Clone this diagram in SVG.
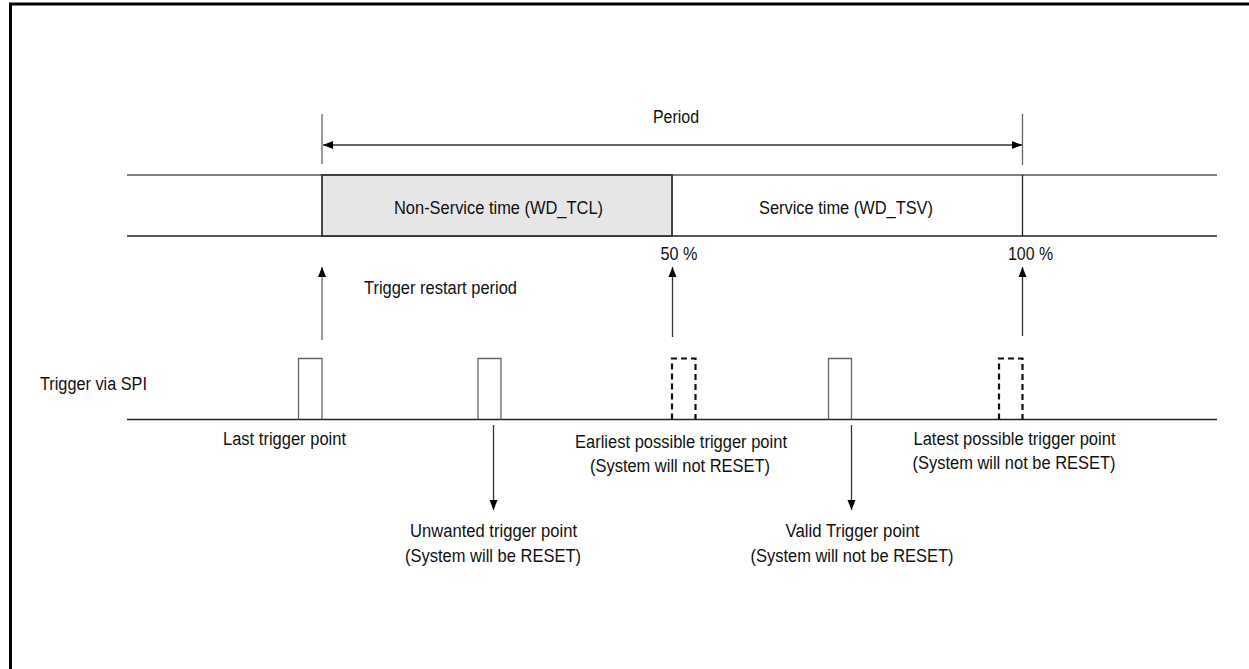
<svg xmlns="http://www.w3.org/2000/svg" width="1249" height="669" viewBox="0 0 1249 669">
<style>
text{font-family:"Liberation Sans",Arial,sans-serif;font-size:18px;fill:#111}
.m{text-anchor:middle}
.ln{stroke:#222;stroke-width:1.3;fill:none}
.gl{stroke:#666;stroke-width:1.3;fill:none}
.pulse{stroke:#666;stroke-width:1.3;fill:none}
.dash{stroke:#111;stroke-width:2.2;fill:none;stroke-dasharray:6 4}
.arr{stroke:#333;stroke-width:1.3;fill:none}
</style>
<defs>
<marker id="ah" viewBox="0 0 10 10" refX="10" refY="5" markerWidth="10" markerHeight="10" markerUnits="userSpaceOnUse" orient="auto-start-reverse">
<path d="M0,1 L10,5 L0,9 Z" fill="#000"/>
</marker>
</defs>
<rect width="1249" height="669" fill="#fff"/>
<path d="M10.5,680 V4 H1260" stroke="#000" stroke-width="3" fill="none"/>

<g id="period">
<line class="gl" x1="322" y1="114" x2="322" y2="164"/>
<line class="gl" x1="1022.5" y1="114" x2="1022.5" y2="165"/>
<text class="m" x="676" y="123" textLength="46" lengthAdjust="spacingAndGlyphs">Period</text>
</g>

<g id="band">
<line x1="127" y1="175" x2="1217" y2="175" stroke="#555" stroke-width="1.3"/>
<line class="ln" x1="127" y1="236" x2="1217" y2="236"/>
<rect x="322" y="175" width="350" height="61" fill="#e6e6e6" stroke="#333" stroke-width="1.8"/>
<line class="ln" x1="1022.5" y1="175" x2="1022.5" y2="236"/>
<text class="m" x="498.5" y="214" textLength="209" lengthAdjust="spacingAndGlyphs">Non-Service time (WD_TCL)</text>
<text class="m" x="846" y="214" textLength="174" lengthAdjust="spacingAndGlyphs">Service time (WD_TSV)</text>
<text class="m" x="679" y="260" textLength="37" lengthAdjust="spacingAndGlyphs">50 %</text>
<text class="m" x="1030.5" y="260" textLength="45" lengthAdjust="spacingAndGlyphs">100 %</text>
</g>

<g id="restart">
<text x="364" y="294" textLength="153" lengthAdjust="spacingAndGlyphs">Trigger restart period</text>
</g>

<g id="spi">
<text x="40" y="390" textLength="107" lengthAdjust="spacingAndGlyphs">Trigger via SPI</text>
<line class="ln" x1="127" y1="419.5" x2="1217" y2="419.5"/>
</g>

<g id="pulse-last">
<path class="pulse" d="M298.5,419.5 V358.5 H322 V419.5"/>
<text x="223" y="445" textLength="123" lengthAdjust="spacingAndGlyphs">Last trigger point</text>
</g>
<g id="pulse-unwanted">
<path class="pulse" d="M478,419.5 V358.5 H501 V419.5"/>
<text class="m" x="493.5" y="537" textLength="167" lengthAdjust="spacingAndGlyphs">Unwanted trigger point</text>
<text class="m" x="493" y="561.5" textLength="176" lengthAdjust="spacingAndGlyphs">(System will be RESET)</text>
</g>
<g id="pulse-earliest">
<path class="dash" d="M672,419.5 V358.5 H695.5 V419.5"/>
<text class="m" x="681" y="448" textLength="212" lengthAdjust="spacingAndGlyphs">Earliest possible trigger point</text>
<text class="m" x="680" y="471.5" textLength="180" lengthAdjust="spacingAndGlyphs">(System will not RESET)</text>
</g>
<g id="pulse-valid">
<path class="pulse" d="M828.5,419.5 V358.5 H851.5 V419.5"/>
<text class="m" x="852.5" y="537" textLength="134" lengthAdjust="spacingAndGlyphs">Valid Trigger point</text>
<text class="m" x="852" y="561.5" textLength="203" lengthAdjust="spacingAndGlyphs">(System will not be RESET)</text>
</g>
<g id="pulse-latest">
<path class="dash" d="M999,419.5 V358.5 H1022.5 V419.5"/>
<text class="m" x="1014.5" y="445" textLength="202" lengthAdjust="spacingAndGlyphs">Latest possible trigger point</text>
<text class="m" x="1014" y="469" textLength="203" lengthAdjust="spacingAndGlyphs">(System will not be RESET)</text>
</g>

<g id="connectors">
<line class="arr" x1="323" y1="145" x2="1022" y2="145" marker-start="url(#ah)" marker-end="url(#ah)"/>
<line class="gl" x1="322" y1="340" x2="322" y2="267" marker-end="url(#ah)"/>
<line class="arr" x1="672.5" y1="337" x2="672.5" y2="267" marker-end="url(#ah)"/>
<line class="arr" x1="1022.5" y1="336" x2="1022.5" y2="267" marker-end="url(#ah)"/>
<line class="arr" x1="493.5" y1="425" x2="493.5" y2="510" marker-end="url(#ah)"/>
<line class="arr" x1="851.5" y1="425" x2="851.5" y2="510" marker-end="url(#ah)"/>
</g>
</svg>
